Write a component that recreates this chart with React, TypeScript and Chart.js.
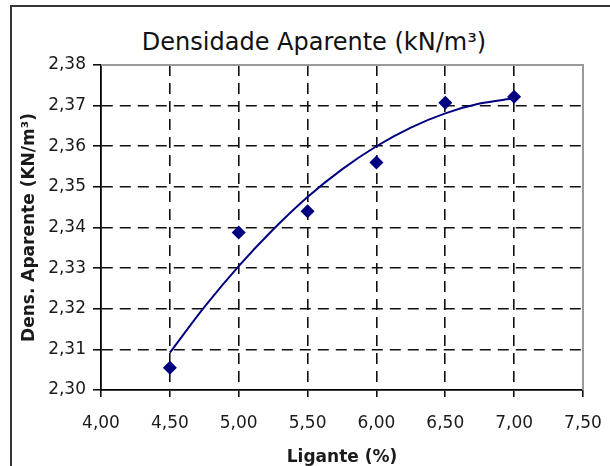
import React, { useEffect, useRef } from "react";
import { Chart, registerables } from "chart.js";

Chart.register(...registerables);

const chartTitle = "Densidade Aparente (kN/m³)";
const xAxisTitle = "Ligante (%)";
const yAxisTitle = "Dens. Aparente (KN/m³)";

const ligante = [4.5, 5.0, 5.5, 6.0, 6.5, 7.0];
const densidade = [2.3055, 2.3388, 2.344, 2.356, 2.3707, 2.3722];

// polynomial trendline
const trendX = [4.5, 4.75, 5.0, 5.25, 5.5, 5.75, 6.0, 6.25, 6.5, 6.75, 7.0];
const trendY = [2.3092, 2.3204, 2.3305, 2.3395, 2.3475, 2.3543, 2.36, 2.3646, 2.3681, 2.3705, 2.3718];

const xMin = 4.0;
const xMax = 7.5;
const xStep = 0.5;
const yMin = 2.3;
const yMax = 2.38;
const yStep = 0.01;

const FONT = "'DejaVu Sans', Verdana, sans-serif";
const NAVY = "#000080";

const fmt = (v: number) => Number(v).toFixed(2).replace(".", ",");

const plotFrame = {
  id: "plotFrame",
  beforeDatasetsDraw(chart: any) {
    const { ctx, chartArea } = chart;
    ctx.save();
    ctx.strokeStyle = "#9a9a9a";
    ctx.lineWidth = 2;
    ctx.beginPath();
    ctx.moveTo(chartArea.left, chartArea.top);
    ctx.lineTo(chartArea.right, chartArea.top);
    ctx.lineTo(chartArea.right, chartArea.bottom);
    ctx.stroke();
    ctx.restore();
  },
};

const edgeHidden = (c: any) =>
  c.index === 0 || c.index === c.scale.ticks.length - 1 ? "rgba(0,0,0,0)" : "#111";

export default function App() {
  const ref = useRef<HTMLCanvasElement | null>(null);

  useEffect(() => {
    if (!ref.current) return;
    const chart = new Chart(ref.current, {
      type: "scatter",
      data: {
        datasets: [
          {
            label: "Densidade",
            data: ligante.map((x, i) => ({ x, y: densidade[i] })),
            pointStyle: "rectRot",
            pointRadius: 7,
            backgroundColor: NAVY,
            borderColor: NAVY,
            borderWidth: 0,
            showLine: false,
          },
          {
            label: "Tendência",
            data: trendX.map((x, i) => ({ x, y: trendY[i] })),
            showLine: true,
            borderColor: NAVY,
            borderWidth: 2,
            pointRadius: 0,
            cubicInterpolationMode: "monotone",
            fill: false,
          },
        ],
      },
      options: {
        animation: false,
        responsive: false,
        devicePixelRatio: 1,
        layout: { padding: { top: 65, right: 27, bottom: 0, left: 0 } },
        plugins: {
          legend: { display: false },
          tooltip: { enabled: false },
          title: { display: false },
        },
        scales: {
          x: {
            type: "linear",
            min: xMin,
            max: xMax,
            afterFit: (s: any) => {
              s.height = 76;
              s.paddingLeft = 0;
              s.paddingRight = 0;
            },
            ticks: {
              stepSize: xStep,
              callback: (v: any) => fmt(v),
              color: "#1a1a1a",
              font: { family: FONT, size: 17 },
              padding: 16,
              maxRotation: 0,
            },
            grid: {
              color: edgeHidden,
              lineWidth: 1.6,
              tickColor: "#000",
              tickLength: 7,
              tickWidth: 1.5,
              tickBorderDash: [],
            },
            border: { display: true, color: "#000", width: 1.8, dash: [11, 7] },
            title: {
              display: true,
              text: xAxisTitle,
              color: "#1a1a1a",
              font: { family: FONT, size: 17, weight: "bold", lineHeight: 1 },
              padding: { top: 0, bottom: 0 },
            },
          },
          y: {
            type: "linear",
            min: yMin,
            max: yMax,
            afterFit: (s: any) => {
              s.width = 101;
            },
            ticks: {
              stepSize: yStep,
              callback: (v: any) => fmt(v),
              color: "#1a1a1a",
              font: { family: FONT, size: 17 },
              padding: 7,
            },
            grid: {
              color: edgeHidden,
              lineWidth: 1.6,
              tickColor: "#000",
              tickLength: 8,
              tickWidth: 1.5,
              tickBorderDash: [],
            },
            border: { display: true, color: "#000", width: 1.8, dash: [11, 7] },
            title: {
              display: true,
              text: yAxisTitle,
              color: "#1a1a1a",
              font: { family: FONT, size: 17, weight: "bold", lineHeight: 1 },
              padding: { top: 21.5, bottom: 0 },
            },
          },
        },
      },
      plugins: [plotFrame],
    } as any);
    return () => chart.destroy();
  }, []);

  return (
    <div
      style={{
        position: "fixed",
        left: 0,
        top: 0,
        width: 610,
        height: 466,
        overflow: "hidden",
        background: "#fff",
      }}
    >
      <div
        style={{
          position: "absolute",
          left: 10,
          top: 5,
          width: 700,
          height: 600,
          border: "2px solid #363636",
        }}
      />
      <div
        style={{
          position: "absolute",
          left: 0,
          top: 27,
          width: 628,
          textAlign: "center",
          fontFamily: FONT,
          fontSize: 24,
          lineHeight: "30px",
          color: "#111",
        }}
      >
        {chartTitle}
      </div>
      <canvas
        ref={ref}
        width={610}
        height={466}
        style={{ position: "absolute", left: 0, top: 0, width: 610, height: 466 }}
      />
    </div>
  );
}
